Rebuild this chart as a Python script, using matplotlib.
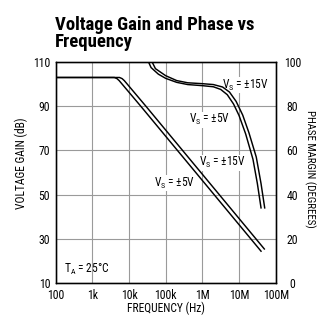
import numpy as np
import matplotlib
matplotlib.use("Agg")
import matplotlib.pyplot as plt
from matplotlib import font_manager

# pick a condensed sans face, like the datasheet's
prefs = ['Roboto Condensed', 'Archivo Narrow', 'PT Sans Narrow', 'Liberation Sans Narrow',
         'Barlow Semi Condensed', 'Roboto']
available = {f.name for f in font_manager.fontManager.ttflist}
font = next((p for p in prefs if p in available), 'DejaVu Sans')
plt.rcParams['font.family'] = [font, 'DejaVu Sans']
plt.rcParams['mathtext.fontset'] = 'custom'
plt.rcParams['mathtext.rm'] = font
plt.rcParams['mathtext.it'] = font

# gain curves (log10 of frequency in Hz, gain in dB)
gain5_logf = [2.0, 3.6, 3.67, 3.73, 4.32, 5.32, 6.32, 7.32, 7.6]
gain5_db = [103, 103, 102.5, 101.6, 90, 70, 50, 30, 24.4]
gain15_logf = [2.0, 3.74, 3.81, 3.87, 4.46, 5.46, 6.46, 7.46, 7.69]
gain15_db = [103, 103, 102.5, 101.6, 90, 70, 50, 30, 25.4]

# phase margin curves (degrees)
phase5_logf = [4.45, 4.6, 4.8, 5.0, 5.3, 5.6, 6.0, 6.3, 6.5, 6.68, 6.85, 7.0, 7.18, 7.38, 7.5, 7.6]
phase5_deg = [103, 97.5, 94.5, 92.6, 90.8, 89.8, 89.3, 88.8, 87.6, 85.2, 81.0, 75.8, 67.5, 56, 45, 34]
phase15_logf = [4.6, 4.72, 5.0, 5.3, 5.6, 6.0, 6.3, 6.55, 6.74, 6.92, 7.1, 7.27, 7.47, 7.6, 7.7]
phase15_deg = [101, 97, 93.8, 91.6, 90.6, 90.2, 89.8, 88.7, 86.4, 82.2, 76, 68, 57, 45, 34]

xticks = [100, 1e3, 1e4, 1e5, 1e6, 1e7, 1e8]
xlabels = ['100', '1k', '10k', '100k', '1M', '10M', '100M']
gain_ticks = [10, 30, 50, 70, 90, 110]
phase_ticks = [0, 20, 40, 60, 80, 100]

fig = plt.figure(figsize=(3.25, 3.23), dpi=100)
ax = fig.add_axes([0.1714, 0.1238, 0.6769, 0.6842])
ax2 = ax.twinx()

ax.set_xscale('log')
ax.set_xlim(100, 1e8)
ax.set_ylim(10, 110)
ax2.set_ylim(0, 100)

ax.set_xticks(xticks)
ax.set_xticklabels(xlabels)
ax.minorticks_off()
ax.set_yticks(gain_ticks)
ax2.set_yticks(phase_ticks)
ax.grid(True, color='#9a9a9a', lw=0.8)
ax.set_axisbelow(True)

for a in (ax, ax2):
    a.tick_params(length=0, labelsize=8.5)
    for s in a.spines.values():
        s.set_linewidth(0.95)
        s.set_color('black')
ax.tick_params(axis='x', pad=4)
ax.tick_params(axis='y', pad=4)
ax2.tick_params(axis='y', pad=12)
for lab in ax2.get_yticklabels():
    lab.set_ha('center')

lw = 1.05
ax.plot(10 ** np.array(gain5_logf), gain5_db, color='black', lw=lw, zorder=3)
ax.plot(10 ** np.array(gain15_logf), gain15_db, color='black', lw=lw, zorder=3)
ax2.plot(10 ** np.array(phase5_logf), phase5_deg, color='black', lw=lw, zorder=3)
ax2.plot(10 ** np.array(phase15_logf), phase15_deg, color='black', lw=lw, zorder=3)

ax.set_xlabel('FREQUENCY (Hz)', fontsize=8.3)
ax.set_ylabel('VOLTAGE GAIN (dB)', fontsize=8.3)
ax2.set_ylabel('PHASE MARGIN (DEGREES)', fontsize=7.8, rotation=270)
ax.xaxis.label.set_va('center')
ax.yaxis.label.set_va('center')
ax2.yaxis.label.set_va('center')
ax.xaxis.set_label_coords(0.499, -0.113)
ax.yaxis.set_label_coords(-0.155, 0.543)
ax2.yaxis.set_label_coords(1.156, 0.516)

box = dict(facecolor='white', edgecolor='none', pad=0.3)
ax2.text(10 ** 6.53, 87.9, r'V$_\mathrm{S}$ = ±15V', fontsize=8.3, va='baseline', ha='left',
         bbox=box, zorder=2)
ax2.text(10 ** 5.64, 72.3, r'V$_\mathrm{S}$ = ±5V', fontsize=8.3, va='baseline', ha='left',
         bbox=box, zorder=2)
ax.text(10 ** 5.905, 62.9, r'V$_\mathrm{S}$ = ±15V', fontsize=8.3, va='baseline', ha='left',
        bbox=box, zorder=2)
ax.text(10 ** 4.69, 53.6, r'V$_\mathrm{S}$ = ±5V', fontsize=8.3, va='baseline', ha='left',
        bbox=box, zorder=2)
ax.text(10 ** 2.234, 14.4, r'T$_\mathrm{A}$ = 25°C', fontsize=8.3, va='baseline', ha='left')

fig.text(0.169, 0.952, 'Voltage Gain and Phase vs\nFrequency', fontsize=13.5,
         fontweight='bold', ha='left', va='top', linespacing=0.95)

fig.savefig('out.png', dpi=100)
